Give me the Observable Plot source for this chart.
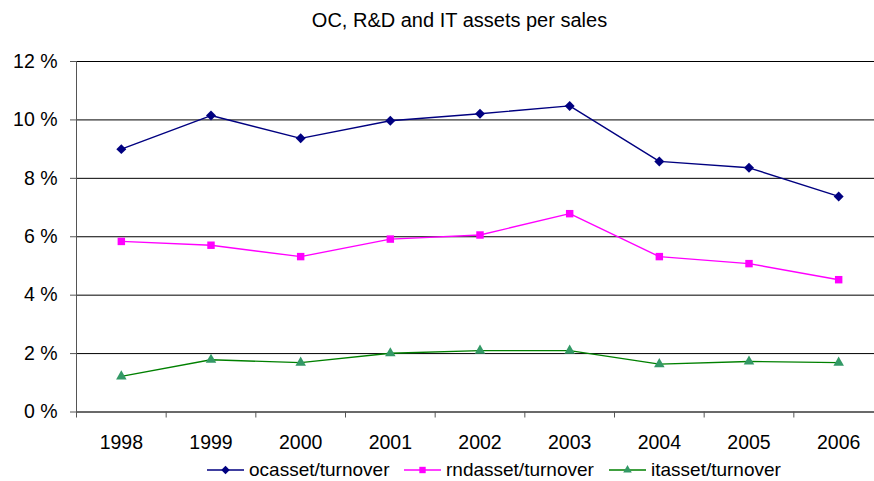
<!DOCTYPE html>
<html>
<head>
<meta charset="utf-8">
<script src="https://cdn.jsdelivr.net/npm/d3@7"></script>
<script src="https://cdn.jsdelivr.net/npm/@observablehq/plot@0.6"></script>
<style>
  html, body { margin: 0; padding: 0; background: #fff; overflow: hidden; }
  body { width: 874px; height: 481px; font-family: "Liberation Sans", Arial, sans-serif; color: #000; }
  #title { position: relative; height: 40px; }
  #title span { position: absolute; left: 459.5px; top: 9px; transform: translateX(-50%); font-size: 20px; white-space: nowrap; }
  #legend { position: relative; height: 20px; }
  .item { position: absolute; top: -2px; display: flex; align-items: center; font-size: 19px; white-space: nowrap; }
  .item svg { margin-right: 5px; }
</style>
</head>
<body>
<div id="title"><span>OC, R&amp;D and IT assets per sales</span></div>
<div id="chart"></div>
<div id="legend"></div>
<script>
const years = [1998, 1999, 2000, 2001, 2002, 2003, 2004, 2005, 2006];
const ocasset = [9.00, 10.15, 9.37, 9.97, 10.21, 10.48, 8.58, 8.36, 7.38];
const rndasset = [5.84, 5.71, 5.32, 5.92, 6.06, 6.79, 5.32, 5.08, 4.53];
const itasset = [1.22, 1.79, 1.69, 2.01, 2.10, 2.10, 1.64, 1.73, 1.69];
const seriesNames = ["ocasset/turnover", "rndasset/turnover", "itasset/turnover"];
const yTicks = [0, 2, 4, 6, 8, 10, 12];

const seriesStyle = [
  {line: "#000080", fill: "#000080", symbol: "diamond2", r: 4.5, lr: 3.8},
  {line: "#FF00FF", fill: "#FF00FF", symbol: "square", r: 4.2, lr: 3.6},
  {line: "#008000", fill: "#339966", symbol: "triangle", r: 3.9, lr: 3.2}
];
const seriesValues = [ocasset, rndasset, itasset];

const rows = [];
seriesNames.forEach((s, i) => years.forEach((yr, j) => rows.push({series: s, year: yr, value: seriesValues[i][j]})));
const boundaries = [years[0] - 0.5, ...years.map(y => y + 0.5)];

const marks = [
  Plot.gridY(yTicks, {stroke: "#000", strokeOpacity: 1}),
  Plot.ruleX([boundaries[0]], {stroke: "#555"}),
  Plot.ruleY([0], {stroke: "#555"}),
  Plot.axisY(yTicks, {label: null, tickSize: 6, tickPadding: 13, stroke: "#555", fill: "#000", tickFormat: d => d + " %"}),
  Plot.axisX(boundaries, {label: null, anchor: "bottom", tickSize: 6, stroke: "#555", tickFormat: () => ""}),
  Plot.axisX(years, {label: null, anchor: "bottom", tickSize: 0, tickPadding: 23, fill: "#000", tickFormat: d => String(d)})
];
seriesNames.forEach((s, i) => {
  const data = rows.filter(d => d.series === s);
  const st = seriesStyle[i];
  marks.push(Plot.line(data, {x: "year", y: "value", stroke: st.line, strokeWidth: 1.4}));
  marks.push(Plot.dot(data, {x: "year", y: "value", symbol: () => st.symbol, fill: st.fill, stroke: "none", r: st.r}));
});

const chart = Plot.plot({
  width: 874,
  height: 421,
  marginTop: 21,
  marginBottom: 49.5,
  marginLeft: 76,
  marginRight: 0,
  x: {domain: [boundaries[0], boundaries[boundaries.length - 1]], range: [76, 883], axis: null},
  y: {domain: [0, 12], axis: null},
  symbol: {type: "identity"},
  style: {fontFamily: "'Liberation Sans', Arial, sans-serif", fontSize: "19.5px", background: "#fff", color: "#000"},
  marks
});
document.getElementById("chart").appendChild(chart);

// legend
const legend = d3.select("#legend");
const lefts = [207, 404, 609];
const symMap = {diamond2: d3.symbolDiamond2, square: d3.symbolSquare, triangle: d3.symbolTriangle};
seriesNames.forEach((s, i) => {
  const st = seriesStyle[i];
  const item = legend.append("div").attr("class", "item").style("left", lefts[i] + "px");
  const svg = item.append("svg").attr("width", 37).attr("height", 14);
  svg.append("line").attr("x1", 0).attr("x2", 37).attr("y1", 7).attr("y2", 7).attr("stroke", st.line).attr("stroke-width", 1.4);
  svg.append("path").attr("transform", "translate(18.5,7)")
    .attr("d", d3.symbol(symMap[st.symbol], Math.PI * st.lr * st.lr)())
    .attr("fill", st.fill);
  item.append("span").text(s);
});
</script>
</body>
</html>
